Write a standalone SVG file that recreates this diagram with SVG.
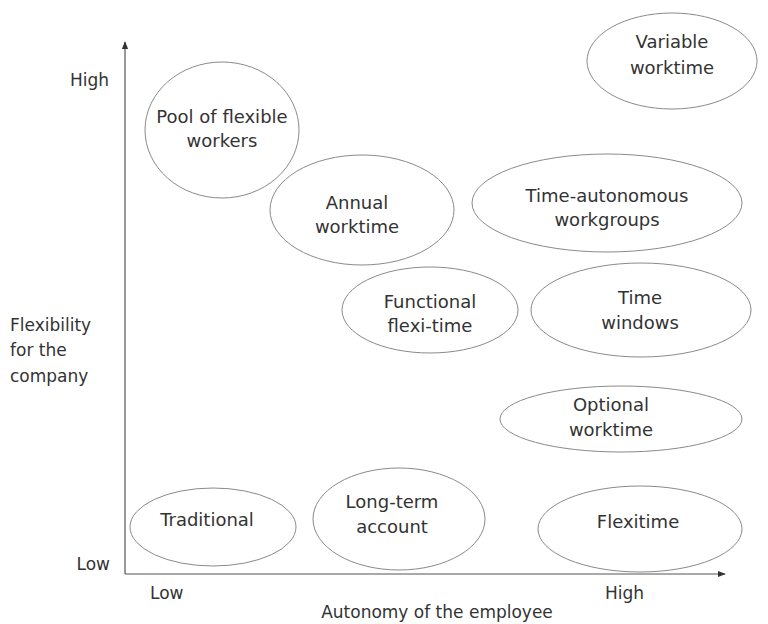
<svg xmlns="http://www.w3.org/2000/svg" width="768" height="624" viewBox="0 0 768 624">
<defs>
<style>
text{font-family:"DejaVu Sans","Liberation Sans",sans-serif;font-size:18px;fill:#333;}
.c{text-anchor:middle;}
.ax text{font-size:17px;}
ellipse{fill:none;stroke:#8a8a8a;stroke-width:1;}
.ax line{stroke:#555;stroke-width:1.2;fill:none;}
</style>
<marker id="ah" viewBox="0 0 10 10" refX="9" refY="5" markerWidth="8" markerHeight="8" markerUnits="userSpaceOnUse" orient="auto"><path d="M0,1 L10,5 L0,9 Z" fill="#333"/></marker>
</defs>
<rect width="768" height="624" fill="#fff"/>
<g id="axes" class="ax">
<line x1="125" y1="574" x2="125" y2="42" marker-end="url(#ah)"/>
<line x1="125" y1="574" x2="725" y2="574" marker-end="url(#ah)"/>
<text x="109" y="86" text-anchor="end">High</text>
<text x="110" y="570" text-anchor="end">Low</text>
<text x="10" y="331">Flexibility</text>
<text x="10" y="356">for the</text>
<text x="10" y="382">company</text>
<text x="150" y="599">Low</text>
<text x="605" y="599">High</text>
<text class="c" x="437" y="618">Autonomy of the employee</text>
</g>
<g id="variable-worktime">
<ellipse cx="672" cy="61" rx="85" ry="48"/>
<text class="c" x="672" y="48">Variable</text>
<text class="c" x="672" y="74">worktime</text>
</g>
<g id="pool-of-flexible-workers">
<ellipse cx="222" cy="130" rx="77" ry="68"/>
<text class="c" x="222" y="123">Pool of flexible</text>
<text class="c" x="222" y="147">workers</text>
</g>
<g id="annual-worktime">
<ellipse cx="362" cy="210" rx="92" ry="55"/>
<text class="c" x="357" y="209">Annual</text>
<text class="c" x="357" y="233">worktime</text>
</g>
<g id="time-autonomous-workgroups">
<ellipse cx="607" cy="203" rx="135" ry="49"/>
<text class="c" x="607" y="202">Time-autonomous</text>
<text class="c" x="607" y="226">workgroups</text>
</g>
<g id="functional-flexi-time">
<ellipse cx="430" cy="310" rx="88" ry="43"/>
<text class="c" x="430" y="308">Functional</text>
<text class="c" x="430" y="332">flexi-time</text>
</g>
<g id="time-windows">
<ellipse cx="641" cy="310" rx="110" ry="47"/>
<text class="c" x="640" y="304">Time</text>
<text class="c" x="640" y="329">windows</text>
</g>
<g id="optional-worktime">
<ellipse cx="621" cy="419" rx="121" ry="33"/>
<text class="c" x="611" y="411">Optional</text>
<text class="c" x="611" y="436">worktime</text>
</g>
<g id="traditional">
<ellipse cx="213" cy="527" rx="83" ry="39"/>
<text class="c" x="207" y="526">Traditional</text>
</g>
<g id="long-term-account">
<ellipse cx="399" cy="519" rx="86" ry="51"/>
<text class="c" x="392" y="508">Long-term</text>
<text class="c" x="392" y="533">account</text>
</g>
<g id="flexitime">
<ellipse cx="640" cy="529" rx="102" ry="43"/>
<text class="c" x="638" y="528">Flexitime</text>
</g>
</svg>
